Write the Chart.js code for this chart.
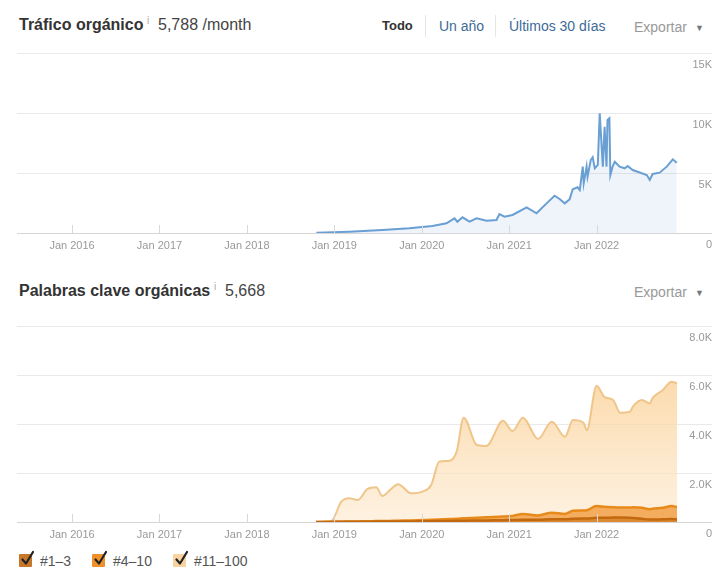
<!DOCTYPE html>
<html><head><meta charset="utf-8">
<script src="https://cdn.jsdelivr.net/npm/chart.js@4.4.0/dist/chart.umd.min.js"></script>
<style>
html,body{margin:0;padding:0;background:#fff;width:714px;height:575px;overflow:hidden;font-family:"Liberation Sans",Arial,sans-serif;}
.a{position:absolute;white-space:nowrap;}
.title{font-weight:bold;font-size:16px;color:#333;line-height:18px;}
.info{font-size:10px;color:#aaa;line-height:10px;}
.big{font-size:16px;color:#444;line-height:18px;}
.nav{font-size:14px;line-height:18px;color:#3d6a97;}
.exp{font-size:14px;line-height:18px;color:#999;}
.arrow{font-size:9px;color:#777;line-height:10px;}
.sep{width:1px;height:22px;background:#e6e6e6;}
canvas{position:absolute;left:0;}
.lg{font-size:14px;color:#555;line-height:18px;}
.box{position:absolute;width:13px;height:13px;border-radius:1px;}
</style></head><body>
<div class="a title" style="left:19px;top:16px;">Tráfico orgánico</div>
<div class="a info" style="left:147px;top:16px;">i</div>
<div class="a big" style="left:158px;top:16px;">5,788 /month</div>
<div class="a nav" style="left:382px;top:17px;color:#333;font-weight:bold;font-size:13px;">Todo</div>
<div class="a sep" style="left:425px;top:15px;"></div>
<div class="a nav" style="left:439px;top:17px;">Un año</div>
<div class="a sep" style="left:495px;top:15px;"></div>
<div class="a nav" style="left:509px;top:17px;">Últimos 30 días</div>
<div class="a exp" style="left:634px;top:18px;">Exportar</div>
<div class="a arrow" style="left:695px;top:23px;">▼</div>

<canvas id="c1" width="714" height="215" style="top:45px;"></canvas>

<div class="a title" style="left:19px;top:282px;">Palabras clave orgánicas</div>
<div class="a info" style="left:214px;top:282px;">i</div>
<div class="a big" style="left:225px;top:282px;">5,668</div>
<div class="a exp" style="left:634px;top:283px;">Exportar</div>
<div class="a arrow" style="left:695px;top:288px;">▼</div>

<canvas id="c2" width="714" height="231" style="top:318px;"></canvas>
<div id="legend"></div>

<script>
// ---------- DATA ----------
const yearTicks = [2016, 2017, 2018, 2019, 2020, 2021, 2022];
const trafficTicks = [0, 5000, 10000, 15000];
const keywordTicks = [0, 2000, 4000, 6000, 8000];

const trafficDates = ["2018-10-17","2019-03-03","2019-07-19","2019-11-10","2020-02-15","2020-04-13","2020-05-16","2020-05-28","2020-06-19","2020-07-18","2020-08-17","2020-09-28","2020-11-09","2020-11-21","2020-12-12","2021-01-15","2021-03-13","2021-04-24","2021-06-05","2021-07-08","2021-07-29","2021-08-20","2021-09-10","2021-09-23","2021-10-13","2021-10-22","2021-11-04","2021-11-08","2021-11-20","2021-11-24","2021-12-07","2021-12-15","2021-12-24","2022-01-06","2022-01-14","2022-01-23","2022-01-27","2022-02-04","2022-02-12","2022-02-16","2022-02-24","2022-02-28","2022-03-07","2022-03-16","2022-04-06","2022-04-27","2022-05-09","2022-05-30","2022-06-20","2022-07-28","2022-08-10","2022-08-22","2022-09-21","2022-10-20","2022-11-15","2022-12-01"];
const trafficValues = [20,110,250,390,580,810,1220,940,1310,940,1220,1030,1080,1580,1360,1500,2140,1640,2470,3110,2830,2470,2800,3640,3810,3580,5530,4140,5530,4690,6080,6310,5390,5670,9970,6920,5530,8860,5530,9420,9560,4830,5530,5940,5530,5390,5580,5250,5110,4830,4420,4920,5030,5530,6140,5860];

const keywordDates = ["2018-10-16","2018-12-20","2019-01-30","2019-03-02","2019-04-08","2019-05-18","2019-06-24","2019-07-19","2019-08-18","2019-09-24","2019-11-18","2020-01-04","2020-02-10","2020-03-13","2020-04-26","2020-05-25","2020-06-24","2020-08-18","2020-09-27","2020-12-06","2021-01-15","2021-02-28","2021-04-30","2021-06-27","2021-08-21","2021-09-24","2021-11-07","2021-11-21","2022-01-01","2022-02-03","2022-03-09","2022-04-08","2022-05-18","2022-06-02","2022-07-08","2022-08-10","2022-08-21","2022-10-04","2022-11-10","2022-12-02"];
const pos1to3 = [0,5,8,10,12,14,16,18,20,22,25,30,35,40,45,50,55,60,65,75,80,90,90,110,110,130,140,140,170,170,180,180,170,160,130,100,100,110,120,110];
const pos4to10 = [0,5,7,10,13,16,24,22,25,33,40,50,55,60,75,80,95,110,125,145,170,240,180,270,220,330,330,340,480,450,420,410,420,440,450,420,440,470,530,500];
const pos11to100 = [0,40,815,950,875,1320,1380,1020,1235,1485,1105,1160,1420,2360,2380,2740,4110,2970,2910,3910,3460,3930,3120,3710,3150,3700,3580,3270,4910,4490,4380,3870,3910,4130,4400,4320,4510,4810,5070,5050];

const seriesLabels = ["#1–3", "#4–10", "#11–100"];

// ---------- HELPERS ----------
function toYear(s){ const [y,m,d] = s.split('-').map(Number); return y + (m-1)/12 + (d-1)/365; }
function pts(dates, vals){ return dates.map((d,i)=>({x:toYear(d), y:vals[i]})); }

const X_MIN = 2015.37, X_MAX = 2023.32;

const innerTicks = {
  id:'innerTicks',
  afterDatasetsDraw(chart){
    const xs = chart.scales.x, a = chart.chartArea, ctx = chart.ctx;
    ctx.save(); ctx.strokeStyle = '#d8d8d8'; ctx.lineWidth = 1;
    xs.ticks.forEach(t=>{
      const px = Math.round(xs.getPixelForValue(t.value)) + 0.5;
      ctx.beginPath(); ctx.moveTo(px, a.bottom); ctx.lineTo(px, a.bottom-8); ctx.stroke();
    });
    ctx.restore();
  }
};

function xScale(){
  return {
    type:'linear', min:X_MIN, max:X_MAX,
    afterBuildTicks: s => { s.ticks = yearTicks.map(v=>({value:v})); },
    afterFit: s => { s.height = 22; },
    grid:{display:false, drawTicks:false},
    border:{display:false},
    ticks:{color:'#999', padding:6, maxRotation:0, autoSkip:false,
      font:{family:'"Liberation Sans", Arial, sans-serif', size:11},
      callback: v => 'Jan ' + v}
  };
}
function yScale(max, ticks, fmt){
  return {
    type:'linear', position:'right', min:0, max:max, stacked:true,
    afterBuildTicks: s => { s.ticks = ticks.map(v=>({value:v})); },
    grid:{drawTicks:false, color: c => (c.tick && c.tick.value===0) ? '#d6d6d6' : '#e9e9e9', lineWidth:1},
    border:{display:false},
    ticks:{mirror:true, padding:0, labelOffset:12, color:'#999',
      font:{family:'"Liberation Sans", Arial, sans-serif', size:11},
      callback: fmt}
  };
}

// ---------- TOP CHART ----------
new Chart(document.getElementById('c1'), {
  type:'line',
  data:{datasets:[{
    label:'Tráfico orgánico',
    data: pts(trafficDates, trafficValues),
    borderColor:'#6a9fd4', borderWidth:2, backgroundColor:'rgba(106,159,212,0.11)',
    fill:'origin', pointRadius:0, tension:0
  }]},
  options:{
    responsive:false, animation:false, devicePixelRatio:1,
    layout:{padding:{left:17, right:2, top:8, bottom:5}},
    plugins:{legend:{display:false}, tooltip:{enabled:false}},
    scales:{ x:xScale(), y:yScale(15000, trafficTicks, v => v===0 ? '0' : (v/1000)+'K') }
  },
  plugins:[innerTicks]
});

// ---------- BOTTOM CHART ----------
const colors = [
  {line:'#c2680f', fill:'#dd8a35', box:'#c8772a'},
  {line:'#e88a1a', fill:'#f4ad5e', box:'#ef912b'},
  {line:'#f0c58a', fill:null, box:'#f8d3a0'}
];
function grad(ctx){
  const ch = ctx.chart, a = ch.chartArea;
  if(!a) return 'rgba(250,210,150,0.5)';
  const g = ch.ctx.createLinearGradient(0, a.top, 0, a.bottom);
  g.addColorStop(0, 'rgba(249,200,130,0.85)');
  g.addColorStop(1, 'rgba(253,234,208,0.65)');
  return g;
}
const kwSeries = [pos1to3, pos4to10, pos11to100];
new Chart(document.getElementById('c2'), {
  type:'line',
  data:{datasets: kwSeries.map((vals,i)=>({
    label: seriesLabels[i],
    data: pts(keywordDates, vals),
    borderColor: colors[i].line,
    borderWidth: i===2 ? 2 : 2.5,
    backgroundColor: i===2 ? grad : colors[i].fill,
    fill: i===0 ? 'origin' : '-1',
    pointRadius:0, tension:0.4, cubicInterpolationMode:'monotone'
  }))},
  options:{
    responsive:false, animation:false, devicePixelRatio:1,
    layout:{padding:{left:17, right:2, top:8, bottom:5}},
    plugins:{legend:{display:false}, tooltip:{enabled:false}},
    scales:{ x:xScale(), y:yScale(8000, keywordTicks, v => v===0 ? '0' : (v/1000).toFixed(1)+'K') }
  },
  plugins:[innerTicks]
});

// ---------- LEGEND ----------
const lg = document.getElementById('legend');
const lgX = [19, 92, 173];
seriesLabels.forEach((lab,i)=>{
  const b = document.createElement('div');
  b.className='box'; b.style.left=lgX[i]+'px'; b.style.top='554px'; b.style.background=colors[i].box;
  lg.appendChild(b);
  const ck = document.createElementNS('http://www.w3.org/2000/svg','svg');
  ck.setAttribute('width','16'); ck.setAttribute('height','16');
  ck.style.position='absolute'; ck.style.left=(lgX[i]+1)+'px'; ck.style.top='550px';
  ck.innerHTML='<path d="M2.5 9.5 L6 13.5 L13 2" fill="none" stroke="#222" stroke-width="2.2" stroke-linecap="round" stroke-linejoin="round"/>';
  lg.appendChild(ck);
  const t = document.createElement('div');
  t.className='a lg'; t.style.left=(lgX[i]+21)+'px'; t.style.top='552px'; t.textContent=lab;
  lg.appendChild(t);
});
</script>
</body></html>
